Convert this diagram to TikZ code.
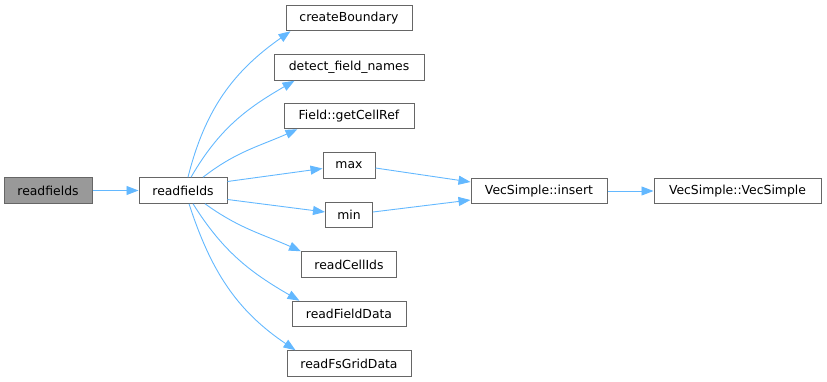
\documentclass[tikz,border=0pt]{standalone}
\usepackage{fontspec}
\setmainfont{DejaVu Sans}
\usetikzlibrary{arrows.meta}
\definecolor{edgeblue}{HTML}{63B8FF}
\definecolor{boxgray}{HTML}{666666}
\definecolor{fillgray}{HTML}{999999}
\begin{document}
\begin{tikzpicture}[x=1pt,y=1pt,
  fn/.style={draw=boxgray, line width=1pt, fill=white, minimum height=25.5pt, inner sep=0pt,
    font=\fontsize{12.4}{14}\selectfont, text=black},
  cur/.style={fn, fill=fillgray},
  call/.style={draw=edgeblue, line width=0.9pt, -{Triangle[length=12pt,width=9pt]}}]
\useasboundingbox (0,0) rectangle (827,381);
\node[cur, minimum width=88pt] (rf0) at (48,190.5) {readfields};
\node[fn, minimum width=88pt] (rf) at (183,190.5) {readfields};
\node[fn, minimum width=126pt] (cB) at (349,363) {createBoundary};
\node[fn, minimum width=150pt] (dfn) at (349,313.5) {detect\_field\_names};
\node[fn, minimum width=130pt] (gcr) at (349,265) {Field::getCellRef};
\node[fn, minimum width=52pt] (max) at (349,215.5) {max};
\node[fn, minimum width=47pt] (min) at (349,166) {min};
\node[fn, minimum width=95pt] (rci) at (349,116.5) {readCellIds};
\node[fn, minimum width=114pt] (rfd) at (349,67) {readFieldData};
\node[fn, minimum width=124pt] (rfs) at (349,17.5) {readFsGridData};
\node[fn, minimum width=136pt] (ins) at (539,190) {VecSimple::insert};
\node[fn, minimum width=167pt] (vs) at (737.5,190) {VecSimple::VecSimple};

\draw[call] (rf0) -- (rf);
\draw[call] ([xshift=5pt]rf.north) to[out=76,in=215] ([xshift=5pt]cB.south west);
\draw[call] ([xshift=8pt]rf.north) to[out=60,in=210] ([xshift=21pt]dfn.south west);
\draw[call] ([xshift=20pt]rf.north) to[out=38,in=204] ([xshift=14pt]gcr.south west);
\draw[call] ([yshift=9pt]rf.east) -- ([yshift=-3pt]max.west);
\draw[call] ([yshift=-9pt]rf.east) -- ([yshift=3pt]min.west);
\draw[call] ([xshift=22pt]rf.south) to[out=-36,in=156] ([xshift=0pt]rci.north west);
\draw[call] ([xshift=10pt]rf.south) to[out=-58,in=150] ([xshift=8pt]rfd.north west);
\draw[call] ([xshift=6pt]rf.south) to[out=-72,in=146] ([xshift=9pt]rfs.north west);
\draw[call] ([yshift=-2.5pt]max.east) -- ([yshift=9pt]ins.west);
\draw[call] ([yshift=3pt]min.east) -- ([yshift=-9pt]ins.west);
\draw[call] (ins) -- (vs);
\end{tikzpicture}
\end{document}
